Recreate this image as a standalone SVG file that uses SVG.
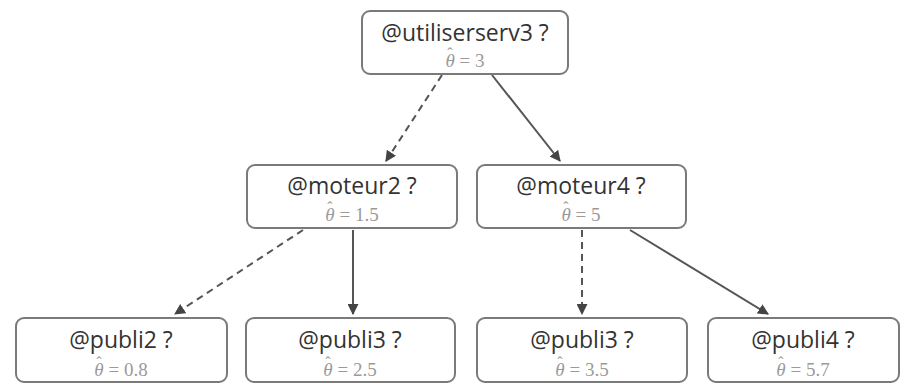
<svg xmlns="http://www.w3.org/2000/svg" width="904" height="384" viewBox="0 0 904 384">
<style>
.box{fill:#fff;stroke:#7a7a7a;stroke-width:2}
.t{font-family:"Open Sans","Noto Sans",sans-serif;font-size:23px;fill:#333;text-anchor:middle}
.s{font-family:"Liberation Serif",serif;font-size:19px;fill:#9a9a9a;text-anchor:middle}
.th{font-style:italic}
.h{font-size:16px}
.e{stroke:#555;stroke-width:2;fill:none}
.d{stroke-dasharray:7,5}
</style>
<defs>
<marker id="ah" viewBox="0 0 10 10" refX="9" refY="5" markerWidth="5.5" markerHeight="5.5" orient="auto">
<path d="M0,0 L10,5 L0,10 z" fill="#444"/>
</marker>
</defs>
<rect width="904" height="384" fill="#fff"/>
<g id="edges">
<line class="e d" x1="442" y1="75" x2="386" y2="161" marker-end="url(#ah)"/>
<line class="e" x1="492" y1="75" x2="560" y2="161" marker-end="url(#ah)"/>
<line class="e d" x1="303" y1="230" x2="175" y2="314" marker-end="url(#ah)"/>
<line class="e" x1="353" y1="230" x2="353" y2="314" marker-end="url(#ah)"/>
<line class="e d" x1="582" y1="230" x2="582" y2="314" marker-end="url(#ah)"/>
<line class="e" x1="630" y1="230" x2="768" y2="314" marker-end="url(#ah)"/>
</g>
<g id="n_root">
<rect class="box" x="362" y="11" width="206" height="63" rx="8"/>
<text class="t" x="465" y="41">@utiliserserv3 ?</text>
<text class="s" x="465" y="67"><tspan class="th">θ</tspan><tspan class="h" dx="-7.5" dy="-8">ˆ</tspan><tspan dx="2.2" dy="8"> = 3</tspan></text>
</g>
<g id="n_moteur2">
<rect class="box" x="247" y="165" width="210" height="63" rx="8"/>
<text class="t" x="352" y="194">@moteur2 ?</text>
<text class="s" x="352" y="221"><tspan class="th">θ</tspan><tspan class="h" dx="-7.5" dy="-8">ˆ</tspan><tspan dx="2.2" dy="8"> = 1.5</tspan></text>
</g>
<g id="n_moteur4">
<rect class="box" x="477" y="165" width="209" height="63" rx="8"/>
<text class="t" x="581" y="194">@moteur4 ?</text>
<text class="s" x="581" y="221"><tspan class="th">θ</tspan><tspan class="h" dx="-7.5" dy="-8">ˆ</tspan><tspan dx="2.2" dy="8"> = 5</tspan></text>
</g>
<g id="n_publi2">
<rect class="box" x="16" y="318" width="211" height="64" rx="8"/>
<text class="t" x="121" y="348">@publi2 ?</text>
<text class="s" x="121" y="376"><tspan class="th">θ</tspan><tspan class="h" dx="-7.5" dy="-8">ˆ</tspan><tspan dx="2.2" dy="8"> = 0.8</tspan></text>
</g>
<g id="n_publi3a">
<rect class="box" x="246" y="318" width="209" height="64" rx="8"/>
<text class="t" x="350" y="348">@publi3 ?</text>
<text class="s" x="350" y="376"><tspan class="th">θ</tspan><tspan class="h" dx="-7.5" dy="-8">ˆ</tspan><tspan dx="2.2" dy="8"> = 2.5</tspan></text>
</g>
<g id="n_publi3b">
<rect class="box" x="477" y="318" width="210" height="64" rx="8"/>
<text class="t" x="582" y="348">@publi3 ?</text>
<text class="s" x="582" y="376"><tspan class="th">θ</tspan><tspan class="h" dx="-7.5" dy="-8">ˆ</tspan><tspan dx="2.2" dy="8"> = 3.5</tspan></text>
</g>
<g id="n_publi4">
<rect class="box" x="708" y="318" width="191" height="64" rx="8"/>
<text class="t" x="803" y="348">@publi4 ?</text>
<text class="s" x="803" y="376"><tspan class="th">θ</tspan><tspan class="h" dx="-7.5" dy="-8">ˆ</tspan><tspan dx="2.2" dy="8"> = 5.7</tspan></text>
</g>
</svg>
